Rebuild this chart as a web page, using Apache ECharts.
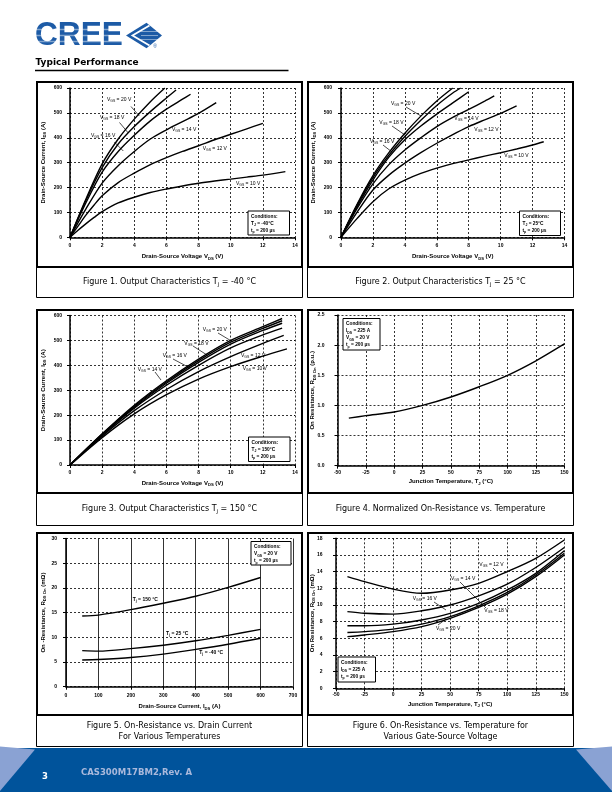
<!DOCTYPE html>
<html><head><meta charset="utf-8">
<script src="https://cdn.jsdelivr.net/npm/echarts@6/dist/echarts.min.js"></script>
<style>html,body{margin:0;padding:0;background:#fff}#c{width:612px;height:792px}</style>
</head><body><div id="c"></div>
<script>
// ---------- DATA ----------
// Figure 1: Output characteristics Tj = -40 °C  [VDS (V), IDS (A)]
const fig1Vgs20 = [[0,0],[1,155],[2,295],[3,395],[4,475],[5,545],[5.9,600]];
const fig1Vgs18 = [[0,0],[1,150],[2,280],[3,375],[4,445],[5,505],[6,560],[6.6,592]];
const fig1Vgs16 = [[0,0],[1,140],[2,262],[3,345],[4,410],[5,468],[6,515],[7,555],[7.5,575]];
const fig1Vgs14 = [[0,0],[1,115],[2,218],[3,288],[4,345],[5,395],[6,432],[7,465],[8,498],[9.1,541]];
const fig1Vgs12 = [[0,0],[0.5,45],[1,90],[1.5,130],[2,167],[3,220],[4,258],[5,292],[6,320],[7,345],[8,368],[9,392],[10,414],[11,436],[12,458]];
const fig1Vgs10 = [[0,0],[0.5,28],[1,55],[1.5,80],[2,103],[3,138],[4,161],[5,180],[6,194],[7,206],[8,217],[9,226],[10,234],[11,242],[12,250],[13.4,264]];
// Figure 2: Tj = 25 °C
const fig2Vgs20 = [[0,0],[1,132],[2,248],[3,340],[4,418],[5,487],[6,548],[7,600]];
const fig2Vgs18 = [[0,0],[1,128],[2,240],[3,330],[4,405],[5,470],[6,530],[7,580],[7.5,600]];
const fig2Vgs16 = [[0,0],[1,122],[2,230],[3,322],[4,392],[5,447],[6,495],[7,540],[8,585]];
const fig2Vgs14 = [[0,0],[1,115],[2,215],[3,292],[4,351],[5,400],[6,445],[7,482],[8,514],[9,547],[9.6,568]];
const fig2Vgs12 = [[0,0],[1,100],[2,190],[3,250],[4,298],[5,340],[6,378],[7,413],[8,445],[9,472],[10,498],[11,528]];
const fig2Vgs10 = [[0,0],[1,75],[2,143],[3,195],[4,230],[5,257],[6,278],[7,296],[8,311],[9,326],[10,340],[11,355],[12,371],[12.7,384]];
// Figure 3: Tj = 150 °C
const fig3Vgs20 = [[0,0],[2,125],[4,240],[6,338],[8,425],[10,500],[12,555],[13.2,588]];
const fig3Vgs18 = [[0,0],[2,123],[4,236],[6,333],[8,419],[10,493],[12,548],[13.2,579]];
const fig3Vgs16 = [[0,0],[2,122],[4,232],[6,328],[8,412],[10,485],[12,540],[13.2,569]];
const fig3Vgs14 = [[0,0],[2,120],[4,228],[6,320],[8,400],[10,470],[12,522],[13.2,549]];
const fig3Vgs12 = [[0,0],[2,116],[4,218],[6,303],[8,375],[10,435],[12,488],[13.3,520]];
const fig3Vgs10 = [[0,0],[2,110],[4,205],[6,282],[8,345],[10,395],[12,437],[13.5,466]];
// Figure 4: normalized RDS(on) vs Tj  [Tj (°C), p.u.]
const fig4Rnorm = [[-40,0.79],[-25,0.83],[0,0.89],[25,1.0],[50,1.14],[75,1.31],[100,1.5],[125,1.74],[150,2.02]];
// Figure 5: RDS(on) vs IDS  [IDS (A), mΩ]
const fig5Tj150 = [[50,14.3],[100,14.5],[200,15.6],[300,16.9],[400,18.3],[500,20.1],[600,22.1]];
const fig5Tj25  = [[50,7.3],[100,7.2],[200,7.7],[300,8.4],[400,9.3],[500,10.4],[600,11.6]];
const fig5TjM40 = [[50,5.4],[100,5.5],[200,5.9],[300,6.6],[400,7.55],[500,8.6],[600,9.8]];
// Figure 6: RDS(on) vs Tj for VGS  [Tj (°C), mΩ]
const fig6Vgs12 = [[-40,13.4],[-25,12.8],[0,11.9],[25,11.4],[50,11.8],[75,12.6],[100,14.0],[125,15.6],[150,17.8]];
const fig6Vgs14 = [[-40,9.2],[-25,9.0],[0,8.9],[25,9.3],[50,10.0],[75,11.1],[100,12.5],[125,14.5],[150,16.9]];
const fig6Vgs16 = [[-40,7.5],[-25,7.5],[0,7.7],[25,8.2],[50,9.0],[75,10.2],[100,11.8],[125,13.8],[150,16.5]];
const fig6Vgs18 = [[-40,6.7],[-25,6.8],[0,7.1],[25,7.7],[50,8.6],[75,9.9],[100,11.5],[125,13.6],[150,16.2]];
const fig6Vgs20 = [[-40,6.2],[-25,6.4],[0,6.8],[25,7.4],[50,8.4],[75,9.7],[100,11.3],[125,13.4],[150,16.0]];

// ---------- STYLE / LAYOUT ----------
const F = 'Liberation Sans';
const FC = 'DejaVu Sans';
const chart = echarts.init(document.getElementById('c'), null, {renderer:'canvas'});

const nameRich = {
  n:{fontFamily:F, fontWeight:'bold', fontSize:6, lineHeight:8, color:'#000'},
  s:{fontFamily:F, fontWeight:'bold', fontSize:4.2, color:'#000', verticalAlign:'bottom'}
};
function xAx(gi, min, max, interval, name, gap, margin, solidV){
  return {type:'value', gridIndex:gi, min, max, interval,
    name, nameLocation:'middle', nameGap:gap, nameMoveOverlap:false, nameTextStyle:{rich:nameRich},
    axisLine:{show:true, onZero:false, lineStyle:{color:'#000', width:1.5}},
    axisTick:{show:true, length:3, lineStyle:{color:'#000', width:1}},
    axisLabel:{fontFamily:F, fontWeight:'bold', fontSize:5, color:'#000', margin, showMinLabel:true, showMaxLabel:true, hideOverlap:false},
    splitLine:{show:true, lineStyle:{color:'#000', width:0.8, type: solidV ? 'solid' : [2,2]}}
  };
}
function yAx(gi, min, max, interval, name, gap, margin, fmt){
  return {type:'value', gridIndex:gi, min, max, interval,
    name, nameLocation:'middle', nameGap:gap, nameMoveOverlap:false, nameTextStyle:{rich:nameRich},
    axisLine:{show:true, onZero:false, lineStyle:{color:'#000', width:1.5}},
    axisTick:{show:true, length:3, lineStyle:{color:'#000', width:1}},
    axisLabel:{fontFamily:F, fontWeight:'bold', fontSize:5, color:'#000', margin, formatter: fmt, showMinLabel:true, showMaxLabel:true, hideOverlap:false},
    splitLine:{show:true, lineStyle:{color:'#000', width:0.8, type:[2,2]}}
  };
}
const nVds = '{n|Drain-Source Voltage V}{s|DS}{n| (V)}';
const nIds = '{n|Drain-Source Current, I}{s|DS}{n| (A)}';
const nTj = '{n|Junction Temperature, T}{s|J}{n| (°C)}';

const grids = [
  {left:70, top:88, width:225, height:149.3},
  {left:341, top:88, width:223.5, height:149.3},
  {left:70, top:315.5, width:225, height:149.5},
  {left:337.5, top:315, width:226.8, height:150.7},
  {left:66, top:538.5, width:227, height:148.2},
  {left:336, top:538.3, width:228.3, height:150}
];
const xAxes = [
  xAx(0, 0, 14, 2, nVds, 15.4, 5.5),
  xAx(1, 0, 14, 2, nVds, 15.4, 5.5),
  xAx(2, 0, 14, 2, nVds, 14, 5.5),
  xAx(3, -50, 150, 25, nTj, 12, 4),
  xAx(4, 0, 700, 100, nIds, 16, 6, true),
  xAx(5, -50, 150, 25, nTj, 11.7, 4)
];
const yAxes = [
  yAx(0, 0, 600, 100, nIds, 22.7, 8),
  yAx(1, 0, 600, 100, nIds, 23.7, 9),
  yAx(2, 0, 600, 100, nIds, 22.7, 8),
  yAx(3, 0, 2.5, 0.5, '{n|On Resistance, R}{s|DS On}{n| (p.u.)}', 20.8, 13, v => v.toFixed(1)),
  yAx(4, 0, 30, 5, '{n|On -Resistance, R}{s|DS On}{n| (mΩ)}', 18.7, 9),
  yAx(5, 0, 18, 2, '{n|On Resistance, R}{s|DS On}{n| (mΩ)}', 20, 13.5)
];
const curves = [
  [0, fig1Vgs20],[0, fig1Vgs18],[0, fig1Vgs16],[0, fig1Vgs14],[0, fig1Vgs12],[0, fig1Vgs10],
  [1, fig2Vgs20],[1, fig2Vgs18],[1, fig2Vgs16],[1, fig2Vgs14],[1, fig2Vgs12],[1, fig2Vgs10],
  [2, fig3Vgs20],[2, fig3Vgs18],[2, fig3Vgs16],[2, fig3Vgs14],[2, fig3Vgs12],[2, fig3Vgs10],
  [3, fig4Rnorm],
  [4, fig5Tj150],[4, fig5Tj25],[4, fig5TjM40],
  [5, fig6Vgs12],[5, fig6Vgs14],[5, fig6Vgs16],[5, fig6Vgs18],[5, fig6Vgs20]
];
const series = curves.map(([gi, d]) => ({
  type:'line', xAxisIndex:gi, yAxisIndex:gi, data:d, showSymbol:false, symbol:'none',
  smooth:0.3, silent:true,
  lineStyle:{color:'#000', width:1.4}
}));

// ---------- GRAPHIC (page decoration, annotations) ----------
const g = [];
const Z = 100;
function txt(x, y, text, rich, align, va, extra){
  g.push(Object.assign({type:'text', x, y, z:Z+2, silent:true,
    style:{text, rich, align: align||'left', verticalAlign: va||'middle'}}, extra||{}));
}
function line(x1,y1,x2,y2,w,c){
  g.push({type:'line', z:Z+1, silent:true, shape:{x1,y1,x2,y2}, style:{stroke:c||'#000', lineWidth:w||0.7}});
}
// panels
function panel(L,R,T,CB,PB){
  g.push({type:'rect', z:Z, silent:true, shape:{x:L+1,y:T+1,width:R-L-2,height:CB-T-1}, style:{fill:'none', stroke:'#000', lineWidth:2}});
  g.push({type:'rect', z:Z, silent:true, shape:{x:L+0.5,y:CB,width:R-L-1,height:PB-CB-0.5}, style:{fill:'none', stroke:'#000', lineWidth:1}});
}
panel(36,303,81,267,298); panel(307,574,81,267,298);
panel(36,303,309,493,526); panel(307,574,309,493,526);
panel(36,303,532,715,747); panel(307,574,532,715,747);

// captions
const capRich = {c:{fontFamily:FC, fontSize:8, lineHeight:11, color:'#111'}, s:{fontFamily:FC, fontSize:5, color:'#111', verticalAlign:'bottom'}};
txt(169.5, 282, '{c|Figure 1. Output Characteristics T}{s|J}{c| = -40 °C}', capRich, 'center');
txt(440.5, 282, '{c|Figure 2. Output Characteristics T}{s|J}{c| = 25 °C}', capRich, 'center');
txt(169.5, 509, '{c|Figure 3. Output Characteristics T}{s|J}{c| = 150 °C}', capRich, 'center');
txt(440.5, 509, '{c|Figure 4. Normalized On-Resistance vs. Temperature}', capRich, 'center');
txt(169.5, 731.5, '{c|Figure 5. On-Resistance vs. Drain Current}\n{c|For Various Temperatures}', capRich, 'center');
txt(440.5, 731.5, '{c|Figure 6. On-Resistance vs. Temperature for}\n{c|Various Gate-Source Voltage}', capRich, 'center');

// condition boxes
const boxRich = {b:{fontFamily:F, fontWeight:'bold', fontSize:4.8, lineHeight:7, color:'#000'}, s:{fontFamily:F, fontWeight:'bold', fontSize:3.4, color:'#000', verticalAlign:'bottom'}};
function cond(x,y,w,h,text){
  g.push({type:'rect', z:Z+1, silent:true, shape:{x,y,width:w,height:h}, style:{fill:'#fff', stroke:'#000', lineWidth:1}});
  txt(x+3, y+2, text, boxRich, 'left', 'top');
}
cond(248, 211, 41.5, 24, '{b|Conditions:}\n{b|T}{s|J}{b| = -40°C}\n{b|t}{s|p}{b| = 200 µs}');
cond(519.5, 211, 41, 24.5, '{b|Conditions:}\n{b|T}{s|J}{b| = 25°C}\n{b|t}{s|p}{b| = 200 µs}');
cond(248.5, 437, 41.5, 24.5, '{b|Conditions:}\n{b|T}{s|J}{b| = 150°C}\n{b|t}{s|p}{b| = 200 µs}');
cond(343, 318.5, 37, 31.5, '{b|Conditions:}\n{b|I}{s|DS}{b| = 225 A}\n{b|V}{s|GS}{b| = 20 V}\n{b|t}{s|p}{b| = 200 µs}');
cond(251, 541.5, 40, 23.5, '{b|Conditions:}\n{b|V}{s|GS}{b| = 20 V}\n{b|t}{s|p}{b| = 200 µs}');
cond(338, 657, 37.5, 25, '{b|Conditions:}\n{b|I}{s|DS}{b| = 225 A}\n{b|t}{s|p}{b| = 200 µs}');

// curve labels
const lr = {a:{fontFamily:F, fontSize:5, lineHeight:6, color:'#222'}, s:{fontFamily:F, fontSize:3.4, color:'#222', verticalAlign:'bottom'}};
const lrb = {a:{fontFamily:F, fontWeight:'bold', fontSize:5, lineHeight:6, color:'#222'}, s:{fontFamily:F, fontWeight:'bold', fontSize:3.4, color:'#222', verticalAlign:'bottom'}};
function vgs(v){ return '{a|V}{s|GS}{a| = ' + v + ' V}'; }
// fig 1
txt(107, 99.5, vgs(20), lr); line(131,106.5,139.3,116);
txt(100, 117.3, vgs(18), lr); line(119.5,122.5,128,132.7);
txt(91, 136, vgs(16), lr); line(114.3,142,123.3,151);
txt(172, 130, vgs(14), lr);
txt(202.7, 148.3, vgs(12), lr);
txt(236, 183.3, vgs(10), lr);
// fig 2
txt(391, 103.3, vgs(20), lr); line(406,107,421,116);
txt(379.3, 122.3, vgs(18), lr); line(392,126,405,135);
txt(370, 141.7, vgs(16), lr); line(383,145,392,152);
txt(454.3, 118.3, vgs(14), lr);
txt(474.3, 129.3, vgs(12), lr);
txt(504.3, 156, vgs(10), lr);
// fig 3
txt(202.7, 330, vgs(20), lr); line(218,333,233,342);
txt(184.3, 343.3, vgs(18), lr); line(193,346,207,355);
txt(162.7, 355.7, vgs(16), lr); line(173,359,190,368);
txt(137.7, 369.3, vgs(14), lr); line(155,372,161,380);
txt(241, 355.7, vgs(12), lr);
txt(242.7, 368.3, vgs(10), lr);
// fig 5
txt(132.7, 600, '{a|T}{s|j}{a| = 150 °C}', lrb);
txt(166, 634, '{a|T}{s|j}{a| = 25 °C}', lrb);
txt(199.3, 652.7, '{a|T}{s|j}{a| = -40 °C}', lrb);
// fig 6
txt(479.3, 564.3, vgs(12), lr); line(493,568,498,573);
txt(451, 578.3, vgs(14), lr); line(460,582,486,608);
txt(412.7, 598.3, vgs(16), lr); line(434,602,446,610);
txt(436, 629, vgs(20), lr); line(438,625,446,619);
txt(484.3, 610.7, vgs(18), lr);

// header
const blue = '#1d5ba6';
g.push({type:'text', x:35, y:35.5, z:Z, silent:true, scaleX:0.93,
  style:{text:'CREE', fontFamily:F, fontWeight:'bold', fontSize:34, align:'left', verticalAlign:'middle', fill:blue}});
[29.5, 35.5, 41.5].forEach(y => line(34, y, 125, y, 1.4, 'rgba(255,255,255,0.45)'));
g.push({type:'polygon', z:Z, silent:true, shape:{points:[[126,35.5],[146.5,22.7],[162,35.5],[146.5,48.3]]}, style:{fill:blue}});
g.push({type:'polyline', z:Z+1, silent:true, shape:{points:[[149.5,25.5],[132.5,35.5],[149.5,45.5]]}, style:{stroke:'#fff', lineWidth:1.8, fill:'none'}});
[31.5, 35.5, 39.5].forEach(y => line(141, y, 158, y, 1, 'rgba(255,255,255,0.45)'));
g.push({type:'text', x:155, y:46.5, z:Z, silent:true, style:{text:'®', fontFamily:F, fontSize:5, fill:blue, align:'center', verticalAlign:'middle'}});
g.push({type:'text', x:35.5, y:62.3, z:Z, silent:true, style:{text:'Typical Performance', fontFamily:FC, fontWeight:'bold', fontSize:9, fill:'#000', align:'left', verticalAlign:'middle'}});
line(35, 70.5, 288.5, 70.5, 1.6, '#000');

// footer
g.push({type:'rect', z:Z, silent:true, shape:{x:0,y:748,width:612,height:44}, style:{fill:'#00539b'}});
g.push({type:'polygon', z:Z+1, silent:true, shape:{points:[[0,746.5],[35,749.5],[0,791]]}, style:{fill:'#8aa2d3'}});
g.push({type:'polygon', z:Z+1, silent:true, shape:{points:[[612,746.5],[576,749.5],[612,791]]}, style:{fill:'#8aa2d3'}});
g.push({type:'text', x:42, y:777, z:Z+2, silent:true, style:{text:'3', fontFamily:FC, fontWeight:'bold', fontSize:8.5, fill:'#fff', align:'left', verticalAlign:'middle'}});
g.push({type:'text', x:81, y:772.5, z:Z+2, silent:true, style:{text:'CAS300M17BM2,Rev. A', fontFamily:FC, fontWeight:'bold', fontSize:8.5, fill:'#a9b9dc', align:'left', verticalAlign:'middle'}});

chart.setOption({
  animation:false,
  backgroundColor:'#fff',
  grid: grids,
  xAxis: xAxes,
  yAxis: yAxes,
  series,
  graphic: g
});
</script></body></html>
